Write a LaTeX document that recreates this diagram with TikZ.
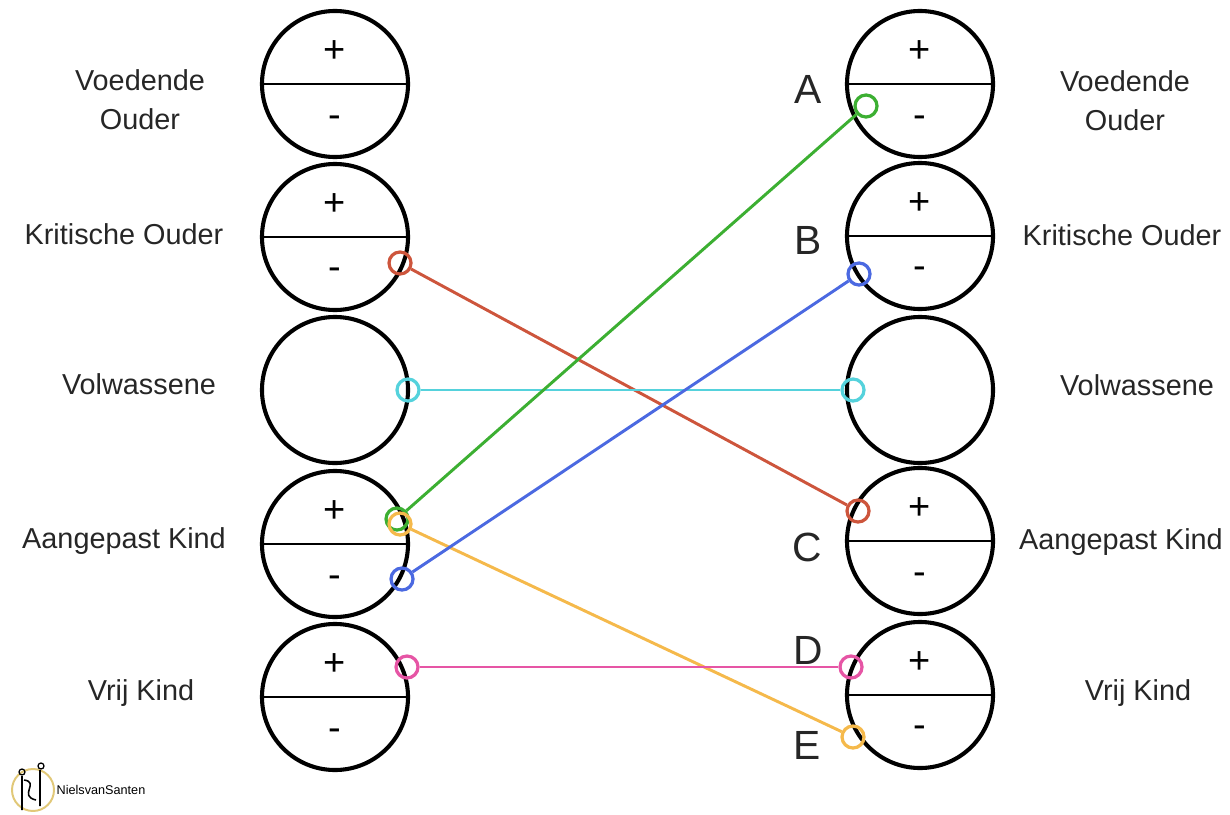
\documentclass[tikz,border=0pt]{standalone}
\usepackage{fontspec}
\setmainfont{Liberation Sans}
\usepackage{tikz}

\definecolor{linkred}{RGB}{205,85,60}
\definecolor{linkgreen}{RGB}{60,175,50}
\definecolor{linkblue}{RGB}{75,105,225}
\definecolor{linkcyan}{RGB}{85,210,220}
\definecolor{linkyellow}{RGB}{245,185,75}
\definecolor{linkpink}{RGB}{230,85,165}
\definecolor{logogold}{RGB}{225,200,120}

\begin{document}
\begin{tikzpicture}[x=0.025cm,y=-0.025cm]
\tikzstyle{every node}=[inner sep=0pt]
\tikzstyle{state}=[draw,circle,line width=2.9pt,minimum size=3.65cm]
\tikzstyle{divider}=[line width=1.9pt]
\tikzstyle{sign}=[font=\fontsize{27}{29}\selectfont]
\tikzstyle{label}=[font=\fontsize{20.5}{28}\selectfont,align=center,text=black!85]
\tikzstyle{letter}=[font=\fontsize{29}{32}\selectfont,text=black!85]
\tikzstyle{ring}=[draw,circle,line width=2.3pt,minimum size=0.55cm]
\tikzstyle{link}=[line width=2.1pt]

\useasboundingbox (0,0) rectangle (1230,815);

% left column
\node[state] (L1) at (335,84) {};
\node[state] (L2) at (335,237) {};
\node[state] (L3) at (335,390) {};
\node[state] (L4) at (335,544) {};
\node[state] (L5) at (335,697) {};
\draw[divider] (L1.west) -- (L1.east);
\draw[divider] (L2.west) -- (L2.east);
\draw[divider] (L4.west) -- (L4.east);
\draw[divider] (L5.west) -- (L5.east);
\node[sign] (L1p) at (335,52) {+};
\node[sign] (L1m) at (335,122) {-};
\node[sign] (L2p) at (335,205) {+};
\node[sign] (L2m) at (335,274) {-};
\node[sign] (L4p) at (335,512) {+};
\node[sign] (L4m) at (335,582) {-};
\node[sign] (L5p) at (335,665) {+};
\node[sign] (L5m) at (335,735) {-};

% right column
\node[state] (R1) at (920,84) {};
\node[state] (R2) at (920,236) {};
\node[state] (R3) at (920,390) {};
\node[state] (R4) at (920,541) {};
\node[state] (R5) at (920,695) {};
\draw[divider] (R1.west) -- (R1.east);
\draw[divider] (R2.west) -- (R2.east);
\draw[divider] (R4.west) -- (R4.east);
\draw[divider] (R5.west) -- (R5.east);
\node[sign] (R1p) at (920,52) {+};
\node[sign] (R1m) at (920,122) {-};
\node[sign] (R2p) at (920,204) {+};
\node[sign] (R2m) at (920,273) {-};
\node[sign] (R4p) at (920,509) {+};
\node[sign] (R4m) at (920,579) {-};
\node[sign] (R5p) at (920,663) {+};
\node[sign] (R5m) at (920,732) {-};

% labels
\node[label] (lab1) at (140,100) {Voedende\\Ouder};
\node[label] (lab2) at (124,234) {Kritische Ouder};
\node[label] (lab3) at (139,384) {Volwassene};
\node[label] (lab4) at (124,541) {Aangepast Kind};
\node[label] (lab5) at (141,693) {Vrij Kind};
\node[label] (rab1) at (1125,101) {Voedende\\Ouder};
\node[label] (rab2) at (1122,235) {Kritische Ouder};
\node[label] (rab3) at (1137,385) {Volwassene};
\node[label] (rab4) at (1121,542) {Aangepast Kind};
\node[label] (rab5) at (1138,693) {Vrij Kind};

\node[letter] (A) at (808,89) {A};
\node[letter] (B) at (808,240) {B};
\node[letter] (C) at (807,547) {C};
\node[letter] (D) at (808,650) {D};
\node[letter] (E) at (807,745) {E};

% rings
\node[ring,linkred] (lred) at (400,263) {};
\node[ring,linkcyan] (lcyan) at (408,390) {};
\node[ring,linkgreen] (lgreen) at (397,519) {};
\node[ring,linkyellow] (lyellow) at (400,524) {};
\node[ring,linkblue] (lblue) at (402,579) {};
\node[ring,linkpink] (lpink) at (407,667) {};
\node[ring,linkgreen] (rgreen) at (866,106) {};
\node[ring,linkblue] (rblue) at (859,274) {};
\node[ring,linkcyan] (rcyan) at (853,390) {};
\node[ring,linkred] (rred) at (858,511) {};
\node[ring,linkpink] (rpink) at (851,667) {};
\node[ring,linkyellow] (ryellow) at (853,737) {};

% links
\draw[link,linkred] (lred) -- (rred);
\draw[link,linkcyan] (lcyan) -- (rcyan);
\draw[link,linkgreen] (lgreen) -- (rgreen);
\draw[link,linkyellow] (lyellow) -- (ryellow);
\draw[link,linkblue] (lblue) -- (rblue);
\draw[link,linkpink] (lpink) -- (rpink);

% logo
\draw[logogold,line width=1.4pt] (33,790) circle (21);
\draw[line width=0.9pt] (22,772) circle (3) (41,766) circle (3);
\draw[line width=1.1pt] (22,776) -- (22,810) (40,770) -- (40,806)
  (24,780) .. controls (40,782) and (18,796) .. (36,800);
\node[font=\fontsize{9}{10}\selectfont] (logo) at (101,790) {NielsvanSanten};
\end{tikzpicture}
\end{document}
